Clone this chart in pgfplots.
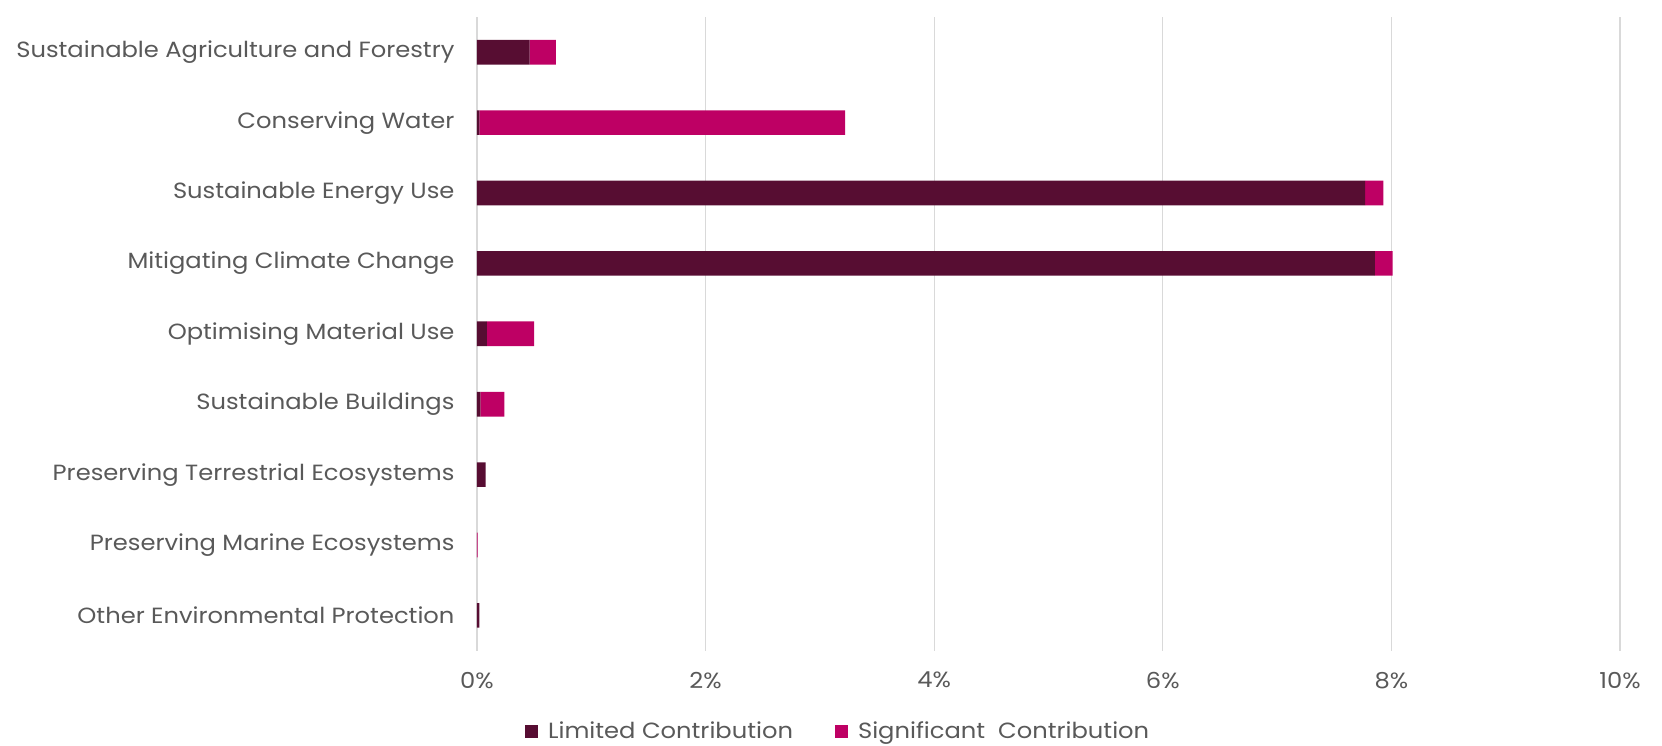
\documentclass[border=0pt]{standalone}
\usepackage{pgfplots}
\pgfplotsset{compat=1.18}
\usepackage{pgfplotstable}
\usepackage{fontspec}
\setmainfont{Poppins}[FakeStretch=1.1]
\definecolor{limc}{RGB}{87,13,50}
\definecolor{sigc}{RGB}{190,0,100}
\definecolor{txt}{RGB}{89,89,89}
\definecolor{gridc}{RGB}{217,217,217}
\pgfplotstableread{
idx lim sig
0 0.46 0.23
1 0.02 3.20
2 7.77 0.16
3 7.855 0.155
4 0.087 0.413
5 0.03 0.21
6 0.076 0.0
7 0.0 0.006
8 0.02 0.0
}\datatab
\begin{document}
\begin{tikzpicture}[font=\fontsize{22}{26}\selectfont, text=txt]
\begin{axis}[
  scale only axis,
  width=1143pt, height=633.6pt,
  xbar stacked,
  bar width=0.35,
  xmin=0, xmax=10,
  ymin=-0.5, ymax=8.5,
  y dir=reverse,
  ytick={0,...,8},
  yticklabels={Sustainable Agriculture and Forestry, Conserving Water, Sustainable Energy Use, Mitigating Climate Change, Optimising Material Use, Sustainable Buildings, Preserving Terrestrial Ecosystems, Preserving Marine Ecosystems, Other Environmental Protection},
  xtick={0,2,4,6,8,10},
  xticklabels={0\%,2\%,4\%,6\%,8\%,10\%},
  xmajorgrids,
  grid style={gridc, line width=1.2pt},
  axis line style={draw=none},
  major tick length=0pt,
  yticklabel style={anchor=east, xshift=-19pt, text=txt},
  xticklabel style={yshift=-18pt, text=txt},
  legend style={draw=none, fill=none, at={(0.316,-0.127)}, anchor=center, legend columns=2, font=\fontsize{22}{26}\selectfont, text=txt,
    /tikz/every odd column/.append style={column sep=8pt},
    /tikz/every even column/.append style={column sep=40pt}},
  legend image code/.code={\fill[#1] (0pt,-6.5pt) rectangle (13pt,6.5pt);},
  clip=false,
]
\addplot[fill=limc, draw=none] table[x=lim, y=idx] {\datatab};
\addlegendentry{Limited Contribution}
\addplot[fill=sigc, draw=none] table[x=sig, y=idx] {\datatab};
\addlegendentry{Significant~ Contribution}
\coordinate (bl) at (rel axis cs:0,0);
\coordinate (tr) at (rel axis cs:1,1);
\end{axis}
\pgfresetboundingbox
\path[use as bounding box] ([shift={(-477pt,-95pt)}]bl) rectangle ([shift={(42pt,17pt)}]tr);
\end{tikzpicture}
\end{document}
